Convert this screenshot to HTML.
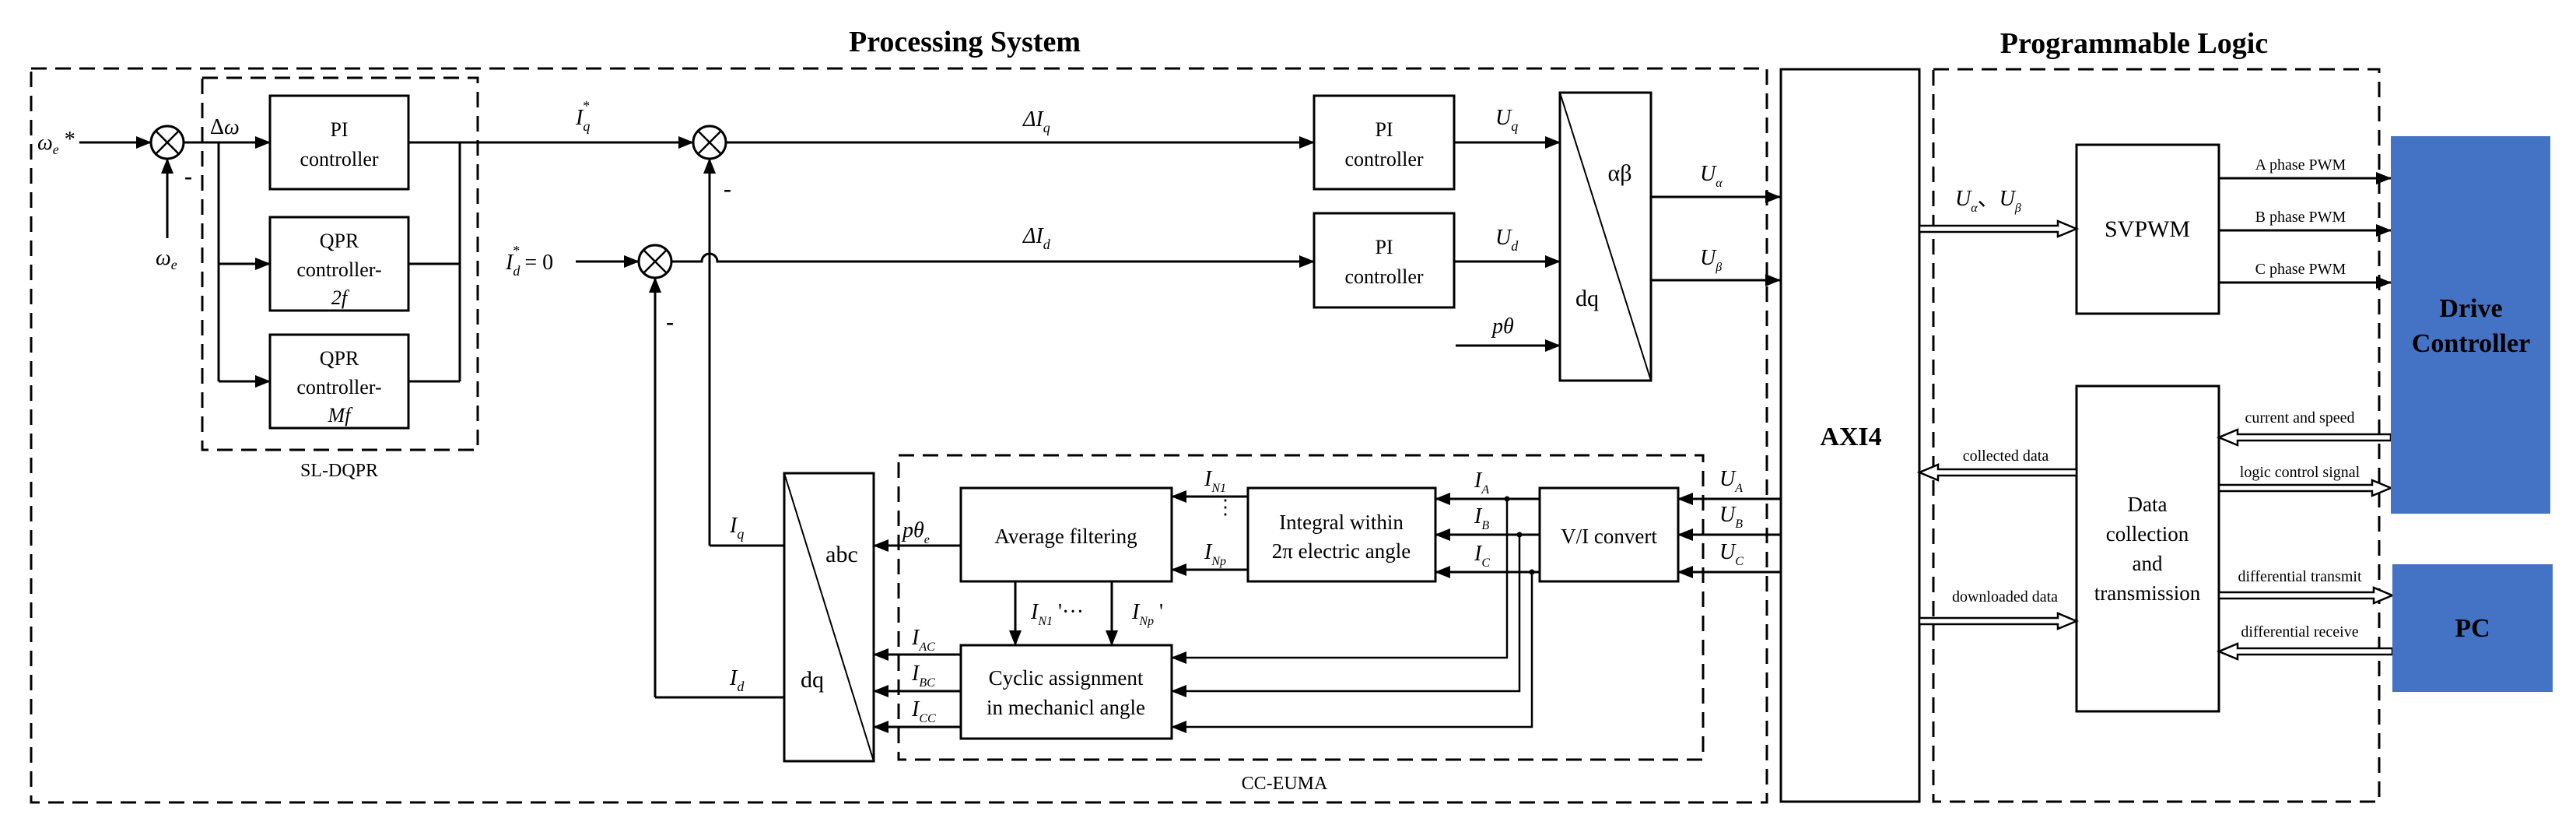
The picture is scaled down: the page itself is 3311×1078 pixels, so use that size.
<!DOCTYPE html>
<html><head><meta charset="utf-8"><style>
html,body{margin:0;padding:0;background:#fff;}
svg{display:block;}
text{font-family:"Liberation Serif",serif;fill:#000;}
.i{font-style:italic;}
</style></head><body>
<svg width="3311" height="1078" viewBox="0 0 3311 1078" xmlns="http://www.w3.org/2000/svg">
<defs>
<marker id="a" markerWidth="20" markerHeight="16" refX="19" refY="8" orient="auto" markerUnits="userSpaceOnUse">
<path d="M0,0 L20,8 L0,16 Z" fill="#000"/></marker>
</defs>
<g fill="none" stroke="#000" stroke-width="3">
<!-- dashed regions -->
<g stroke-dasharray="20 11">
<rect x="40" y="88" width="2231" height="943"/>
<rect x="260" y="100" width="354" height="478"/>
<rect x="1155" y="585" width="1034" height="391"/>
<rect x="2485" y="89" width="573" height="941"/>
</g>
<!-- SL-DQPR -->
<circle cx="215" cy="183" r="21"/>
<path d="M200,168 L230,198 M230,168 L200,198" stroke-width="2.5"/>
<line x1="102" y1="183" x2="194" y2="183" marker-end="url(#a)"/>
<line x1="215" y1="306" x2="215" y2="204" marker-end="url(#a)"/>
<line x1="236" y1="183" x2="347" y2="183" marker-end="url(#a)"/>
<line x1="281" y1="183" x2="281" y2="490"/>
<line x1="281" y1="339" x2="347" y2="339" marker-end="url(#a)"/>
<line x1="281" y1="490" x2="347" y2="490" marker-end="url(#a)"/>
<rect x="347" y="123" width="178" height="120"/>
<rect x="347" y="279" width="178" height="120"/>
<rect x="347" y="430" width="178" height="120"/>
<line x1="525" y1="339" x2="591" y2="339"/>
<line x1="525" y1="490" x2="591" y2="490"/>
<line x1="591" y1="183" x2="591" y2="490"/>
<line x1="525" y1="183" x2="891" y2="183" marker-end="url(#a)"/>
<!-- sum q -->
<circle cx="912" cy="183" r="21"/>
<path d="M897,168 L927,198 M927,168 L897,198" stroke-width="2.5"/>
<line x1="933" y1="183" x2="1689" y2="183" marker-end="url(#a)"/>
<line x1="912" y1="701" x2="912" y2="204" marker-end="url(#a)"/>
<!-- sum d -->
<circle cx="842" cy="336" r="21"/>
<path d="M827,321 L857,351 M857,321 L827,351" stroke-width="2.5"/>
<line x1="740" y1="336" x2="821" y2="336" marker-end="url(#a)"/>
<path d="M863,336 L902,336 A10,10 0 0 1 922,336 L1689,336" marker-end="url(#a)"/>
<line x1="842" y1="896" x2="842" y2="357" marker-end="url(#a)"/>
<!-- PI q/d -->
<rect x="1689" y="123" width="180" height="120"/>
<rect x="1689" y="274" width="180" height="121"/>
<line x1="1869" y1="183" x2="2005" y2="183" marker-end="url(#a)"/>
<line x1="1869" y1="336" x2="2005" y2="336" marker-end="url(#a)"/>
<line x1="1871" y1="444" x2="2005" y2="444" marker-end="url(#a)"/>
<rect x="2005" y="119" width="117" height="370"/>
<line x1="2005" y1="119" x2="2122" y2="489" stroke-width="2"/>
<line x1="2122" y1="253" x2="2288" y2="253" marker-end="url(#a)"/>
<line x1="2122" y1="360" x2="2288" y2="360" marker-end="url(#a)"/>
<!-- abc/dq -->
<rect x="1008" y="608" width="115" height="370"/>
<line x1="1008" y1="608" x2="1123" y2="978" stroke-width="2"/>
<line x1="912" y1="701" x2="1008" y2="701"/>
<line x1="842" y1="896" x2="1008" y2="896"/>
<!-- CC-EUMA -->
<rect x="1235" y="627" width="271" height="120"/>
<rect x="1604" y="627" width="241" height="120"/>
<rect x="1979" y="627" width="178" height="120"/>
<rect x="1235" y="829" width="271" height="120"/>
<line x1="1235" y1="701" x2="1123" y2="701" marker-end="url(#a)"/>
<line x1="1604" y1="638" x2="1506" y2="638" marker-end="url(#a)"/>
<line x1="1604" y1="732" x2="1506" y2="732" marker-end="url(#a)"/>
<line x1="1979" y1="641" x2="1845" y2="641" marker-end="url(#a)"/>
<line x1="1979" y1="687" x2="1845" y2="687" marker-end="url(#a)"/>
<line x1="1979" y1="735" x2="1845" y2="735" marker-end="url(#a)"/>
<line x1="2288" y1="641" x2="2157" y2="641" marker-end="url(#a)"/>
<line x1="2288" y1="687" x2="2157" y2="687" marker-end="url(#a)"/>
<line x1="2288" y1="735" x2="2157" y2="735" marker-end="url(#a)"/>
<path d="M1937,641 L1937,845 L1506,845" marker-end="url(#a)" stroke-width="2.5"/>
<path d="M1953,687 L1953,888 L1506,888" marker-end="url(#a)" stroke-width="2.5"/>
<path d="M1969,735 L1969,934 L1506,934" marker-end="url(#a)" stroke-width="2.5"/>
<line x1="1305" y1="747" x2="1305" y2="829" marker-end="url(#a)"/>
<line x1="1429" y1="747" x2="1429" y2="829" marker-end="url(#a)"/>
<line x1="1235" y1="841" x2="1123" y2="841" marker-end="url(#a)"/>
<line x1="1235" y1="888" x2="1123" y2="888" marker-end="url(#a)"/>
<line x1="1235" y1="934" x2="1123" y2="934" marker-end="url(#a)"/>
<!-- AXI -->
<rect x="2289" y="89" width="178" height="941"/>
<!-- PL -->
<rect x="2669" y="186" width="183" height="217"/>
<rect x="2669" y="496" width="183" height="418"/>
<line x1="2852" y1="229" x2="3073" y2="229" marker-end="url(#a)"/>
<line x1="2852" y1="296" x2="3073" y2="296" marker-end="url(#a)"/>
<line x1="2852" y1="363" x2="3073" y2="363" marker-end="url(#a)"/>
</g>
<g fill="#000">
<circle cx="1937" cy="641" r="3.5"/><circle cx="1953" cy="687" r="3.5"/><circle cx="1969" cy="735" r="3.5"/>
</g>
<!-- hollow arrows -->
<g fill="#fff" stroke="#000" stroke-width="2.5">
<path d="M2467,290 L2645,290 L2645,284 L2669,294 L2645,304 L2645,298 L2467,298 Z"/>
<path d="M2669,603 L2491,603 L2491,597 L2467,607 L2491,617 L2491,611 L2669,611 Z"/>
<path d="M2467,794 L2645,794 L2645,788 L2669,798 L2645,808 L2645,802 L2467,802 Z"/>
<path d="M3073,558 L2876,558 L2876,552 L2852,562 L2876,572 L2876,566 L3073,566 Z"/>
<path d="M2852,623 L3049,623 L3049,617 L3073,627 L3049,637 L3049,631 L2852,631 Z"/>
<path d="M2852,761 L3051,761 L3051,755 L3075,765 L3051,775 L3051,769 L2852,769 Z"/>
<path d="M3075,833 L2876,833 L2876,827 L2852,837 L2876,847 L2876,841 L3075,841 Z"/>
</g>
<rect x="3073" y="175" width="205" height="485" fill="#4472C4"/>
<rect x="3075" y="725" width="206" height="164" fill="#4472C4"/>
<!-- text -->
<text x="1240" y="66" font-size="38" font-weight="bold" text-anchor="middle">Processing System</text>
<text x="2743" y="68" font-size="38" font-weight="bold" text-anchor="middle">Programmable Logic</text>
<g font-size="26" text-anchor="middle">
<text x="436" y="175">PI</text><text x="436" y="213">controller</text>
<text x="436" y="318">QPR</text><text x="436" y="355">controller-</text><text x="436" y="391" class="i">2f</text>
<text x="436" y="469">QPR</text><text x="436" y="506">controller-</text><text x="436" y="542" class="i">Mf</text>
<text x="1779" y="175">PI</text><text x="1779" y="213">controller</text>
<text x="1779" y="326">PI</text><text x="1779" y="364">controller</text>
<text x="2082" y="232" font-size="30">αβ</text>
<text x="2040" y="393" font-size="30">dq</text>
<text x="1082" y="722" font-size="30">abc</text>
<text x="1044" y="883" font-size="30">dq</text>
<text x="1370" y="698" font-size="27">Average filtering</text>
<text x="1724" y="680" font-size="27">Integral within</text>
<text x="1724" y="717" font-size="27">2π electric angle</text>
<text x="2068" y="698" font-size="27">V/I convert</text>
<text x="1370" y="880" font-size="27">Cyclic assignment</text>
<text x="1370" y="918" font-size="27">in mechanicl angle</text>
<text x="436" y="612" font-size="24">SL-DQPR</text>
<text x="1651" y="1014" font-size="24">CC-EUMA</text>
</g>
<g font-size="28" class="i">
<text x="48" y="192">ω<tspan font-size="18" dy="6">e</tspan><tspan dy="-10" font-style="normal"> *</tspan></text>
<text x="200" y="340">ω<tspan font-size="18" dy="6">e</tspan></text>
<text x="270" y="172" font-style="normal">Δ<tspan font-style="italic">ω</tspan></text>
<text x="740" y="160">I<tspan font-size="18" dy="8">q</tspan><tspan font-size="18" dx="-10" dy="-26">*</tspan></text>
<text x="650" y="346">I<tspan font-size="18" dy="8">d</tspan><tspan font-size="18" dx="-10" dy="-26">*</tspan><tspan font-style="normal" dy="18"> = 0</tspan></text>
<text x="1315" y="162">ΔI<tspan font-size="18" dy="8">q</tspan></text>
<text x="1315" y="312">ΔI<tspan font-size="18" dy="8">d</tspan></text>
<text x="1922" y="160">U<tspan font-size="18" dy="8">q</tspan></text>
<text x="1922" y="314">U<tspan font-size="18" dy="8">d</tspan></text>
<text x="1918" y="428">pθ</text>
<text x="2185" y="232">U<tspan font-size="16" dy="8">α</tspan></text>
<text x="2185" y="340">U<tspan font-size="16" dy="8">β</tspan></text>
<text x="938" y="684">I<tspan font-size="18" dy="8">q</tspan></text>
<text x="938" y="880">I<tspan font-size="18" dy="8">d</tspan></text>
<text x="1160" y="690">pθ<tspan font-size="16" dy="8">e</tspan></text>
<text x="1548" y="624">I<tspan font-size="16" dy="8">N1</tspan></text>
<text x="1548" y="718">I<tspan font-size="16" dy="8">Np</tspan></text>
<text x="1325" y="795">I<tspan font-size="16" dy="8">N1</tspan><tspan font-style="normal" dy="-8"> '···</tspan></text>
<text x="1455" y="795">I<tspan font-size="16" dy="8">Np</tspan><tspan font-style="normal" dy="-8"> '</tspan></text>
<text x="1895" y="626">I<tspan font-size="16" dy="8">A</tspan></text>
<text x="1895" y="672">I<tspan font-size="16" dy="8">B</tspan></text>
<text x="1895" y="720">I<tspan font-size="16" dy="8">C</tspan></text>
<text x="2210" y="624">U<tspan font-size="16" dy="8">A</tspan></text>
<text x="2210" y="670">U<tspan font-size="16" dy="8">B</tspan></text>
<text x="2210" y="718">U<tspan font-size="16" dy="8">C</tspan></text>
<text x="1172" y="828">I<tspan font-size="16" dy="8">AC</tspan></text>
<text x="1172" y="874">I<tspan font-size="16" dy="8">BC</tspan></text>
<text x="1172" y="920">I<tspan font-size="16" dy="8">CC</tspan></text>
<text x="2513" y="264">U<tspan font-size="16" dy="8">α</tspan><tspan font-style="normal" dy="-8">、</tspan>U<tspan font-size="16" dy="8">β</tspan></text>
</g>
<text x="1562" y="660" font-size="26">⋮</text>
<g font-size="30" font-weight="bold"><text x="237" y="236">-</text><text x="930" y="252">-</text><text x="856" y="423">-</text></g>
<g font-size="20" text-anchor="middle">
<text x="2957" y="218">A phase PWM</text>
<text x="2957" y="285">B phase PWM</text>
<text x="2957" y="352">C phase PWM</text>
<text x="2956" y="543">current and speed</text>
<text x="2956" y="613">logic control signal</text>
<text x="2956" y="747">differential transmit</text>
<text x="2956" y="818">differential receive</text>
<text x="2578" y="592">collected data</text>
<text x="2577" y="773">downloaded data</text>
</g>
<g font-size="27" text-anchor="middle">
<text x="2760" y="304" font-size="30">SVPWM</text>
<text x="2760" y="657">Data</text>
<text x="2760" y="695">collection</text>
<text x="2760" y="733">and</text>
<text x="2760" y="771">transmission</text>
</g>
<g font-size="34" font-weight="bold" text-anchor="middle">
<text x="2379" y="572">AXI4</text>
<text x="3176" y="407">Drive</text>
<text x="3176" y="452">Controller</text>
<text x="3178" y="818">PC</text>
</g>
</svg>
</body></html>
